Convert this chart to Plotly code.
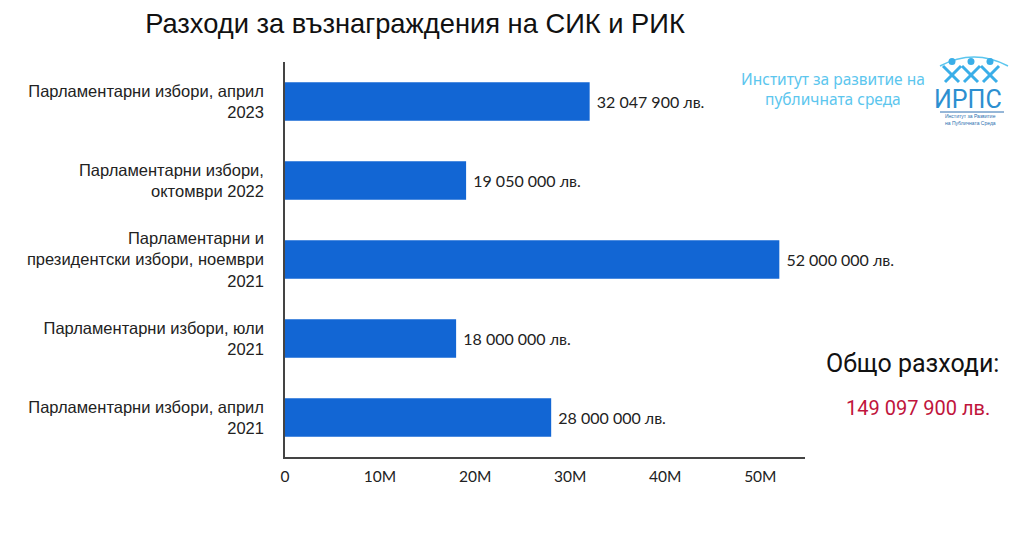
import plotly.graph_objects as go

categories = [
    "Парламентарни избори, април<br>2023",
    "Парламентарни избори,<br>октомври 2022",
    "Парламентарни и<br>президентски избори, ноември<br>2021",
    "Парламентарни избори, юли<br>2021",
    "Парламентарни избори, април<br>2021",
]
values = [32047900, 19050000, 52000000, 18000000, 28000000]
tick_vals = [0, 10e6, 20e6, 30e6, 40e6, 50e6]
tick_text = ["0", "10M", "20M", "30M", "40M", "50M"]
total_text = "149 097 900 лв."

labels = [" " + f"{v:,}".replace(",", " ") + " лв." for v in values]

W, H = 1024, 533
L, R, T, B = 285, 219, 62, 76
pw, ph = W - L - R, H - T - B


def px(x):
    return (x - L) / pw


def py(y):
    return (H - B - y) / ph


fig = go.Figure(go.Bar(
    y=categories, x=values, orientation="h",
    marker=dict(color="#1266d4", line=dict(width=0)),
    width=0.49,
    text=labels, textposition="outside",
    textfont=dict(family="Lato", size=16, color="#222222"),
    cliponaxis=False,
))

fig.update_layout(
    width=W, height=H,
    margin=dict(l=L, r=R, t=T, b=B),
    plot_bgcolor="white", paper_bgcolor="white",
    showlegend=False,
    title=dict(text="Разходи за възнаграждения на СИК и РИК",
               xref="container", x=415 / W, xanchor="center",
               y=1 - 23 / H, yanchor="middle",
               font=dict(family="Liberation Sans", size=27.3, color="#111111")),
    xaxis=dict(range=[0, 54.7e6], tickvals=tick_vals, ticktext=tick_text,
               showgrid=False, zeroline=False, showline=True,
               linecolor="#444444", linewidth=1.5, ticks="",
               ticklabelstandoff=5,
               tickfont=dict(family="Lato", size=15.5, color="#222222")),
    yaxis=dict(autorange="reversed", showgrid=False, zeroline=False,
               showline=True, linecolor="#444444", linewidth=1.5, ticks="",
               ticklabelstandoff=16,
               tickfont=dict(family="Liberation Sans", size=16.5, color="#222222")),
)

ann = [
    dict(text="Общо разходи:", x=px(912), y=py(363),
         font=dict(family="Roboto", size=25, color="#111111")),
    dict(text=total_text, x=px(918), y=py(408),
         font=dict(family="Roboto", size=20, color="#c0143c")),
    dict(text="Институт за развитие на<br>публичната среда", x=px(833), y=py(89),
         font=dict(family="Noto Sans", size=15.5, color="#5cc6ee")),
    dict(text="ИРПС", x=px(968), y=py(99),
         font=dict(family="Roboto", size=25, color="#2c8fd0")),
    dict(text="Институт за Развитие<br>на Публичната Среда", x=px(970), y=py(119),
         font=dict(family="Liberation Sans", size=5, color="#2c6fb0"), align="left"),
]
for a in ann:
    fig.add_annotation(xref="paper", yref="paper", showarrow=False,
                       xanchor="center", yanchor="middle", **a)

# logo decorations
shapes = []
shapes.append(dict(type="path", xref="paper", yref="paper",
                   path=f"M {px(940)} {py(66)} Q {px(974)} {py(48)} {px(1008)} {py(66)}",
                   line=dict(color="#5cc6ee", width=1.5)))
for cx in [952, 971, 990]:
    shapes.append(dict(type="circle", xref="paper", yref="paper",
                       x0=px(cx - 3.5), x1=px(cx + 3.5), y0=py(58), y1=py(65),
                       fillcolor="#3aaee8", line=dict(width=0)))
    shapes.append(dict(type="line", xref="paper", yref="paper",
                       x0=px(cx - 9), y0=py(66), x1=px(cx + 7), y1=py(82),
                       line=dict(color="#3aaee8", width=3)))
    shapes.append(dict(type="line", xref="paper", yref="paper",
                       x0=px(cx + 9), y0=py(66), x1=px(cx - 7), y1=py(82),
                       line=dict(color="#3aaee8", width=3)))
shapes.append(dict(type="line", xref="paper", yref="paper",
                   x0=px(940), y0=py(112), x1=px(1004), y1=py(112),
                   line=dict(color="#2c6fb0", width=1)))
fig.update_layout(shapes=shapes)

fig.write_html("out.html", config={"displayModeBar": False})
with open("out.html", encoding="utf-8") as f:
    html = f.read()
html = html.replace("<body>", '<body style="margin:0;padding:0;overflow:hidden">', 1)
with open("out.html", "w", encoding="utf-8") as f:
    f.write(html)
